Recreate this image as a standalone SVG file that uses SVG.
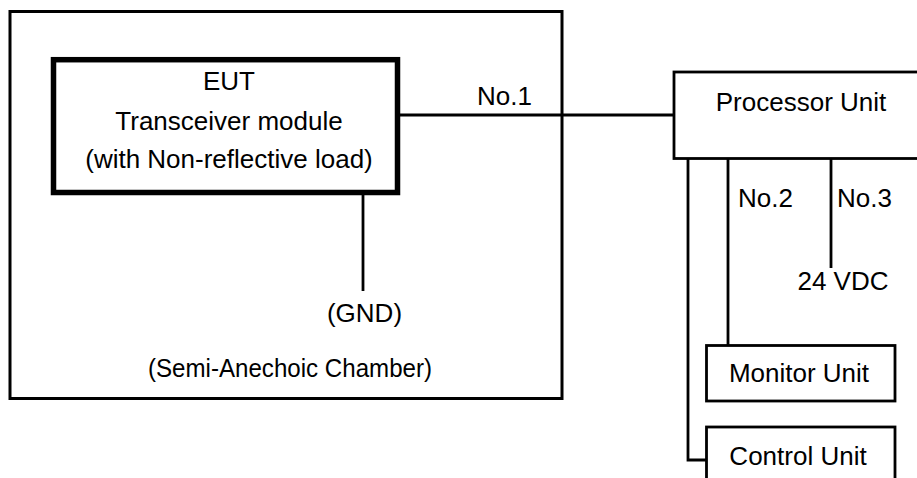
<svg xmlns="http://www.w3.org/2000/svg" width="917" height="478" viewBox="0 0 917 478">
<style>
text{font-family:"Liberation Sans",Arial,sans-serif;font-size:26px;fill:#000}
.c{text-anchor:middle}
.box{fill:#fff;stroke:#000;stroke-width:2.8}
.wire{fill:none;stroke:#000;stroke-width:2.8}
</style>
<rect width="917" height="478" fill="#fff"/>
<g id="chamber">
<rect x="10" y="11.5" width="552" height="387" fill="none" stroke="#000" stroke-width="3"/>
<text x="148" y="377" style="font-size:25px" textLength="284" lengthAdjust="spacingAndGlyphs">(Semi-Anechoic Chamber)</text>
</g>
<g id="connectors">
<line class="wire" x1="397" y1="115" x2="674" y2="115"/>
<line class="wire" x1="363" y1="193" x2="363" y2="291"/>
<line class="wire" x1="831" y1="158" x2="831" y2="268"/>
<line class="wire" x1="728" y1="158" x2="728" y2="345"/>
<polyline class="wire" points="688,158 688,460 706,460"/>
<text x="477" y="105">No.1</text>
<text x="738" y="207">No.2</text>
<text x="837" y="207">No.3</text>
<text class="c" x="364.5" y="322">(GND)</text>
<text class="c" x="843" y="290">24 VDC</text>
</g>
<g id="eut">
<rect x="53.5" y="59.7" width="344" height="132.8" fill="#fff" stroke="#000" stroke-width="5.5"/>
<text class="c" x="229" y="90">EUT</text>
<text class="c" x="229" y="130">Transceiver module</text>
<text class="c" x="229" y="168">(with Non-reflective load)</text>
</g>
<g id="processor">
<rect class="box" x="674" y="72" width="260" height="86.5"/>
<text class="c" x="801" y="111">Processor Unit</text>
</g>
<g id="monitor">
<rect class="box" x="706.5" y="345.5" width="188.5" height="55.5"/>
<text class="c" x="799" y="382">Monitor Unit</text>
</g>
<g id="control">
<rect class="box" x="706.5" y="427" width="188.5" height="70"/>
<text class="c" x="798" y="465">Control Unit</text>
</g>
</svg>
